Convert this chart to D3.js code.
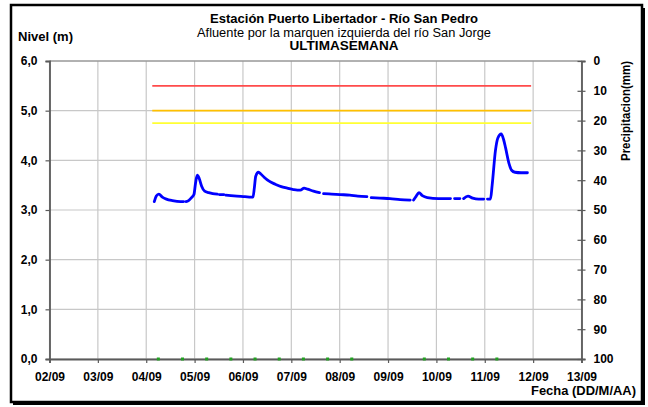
<!DOCTYPE html>
<html><head><meta charset="utf-8">
<script src="https://cdn.jsdelivr.net/npm/d3@7/dist/d3.min.js"></script>
<style>
body{margin:0;background:#fff;}
svg{display:block;font-family:"Liberation Sans",Arial,sans-serif;}
</style></head>
<body><svg id="c" width="648" height="407"></svg>
<script>
// ---- data ----
const dayLabels = ["02/09","03/09","04/09","05/09","06/09","07/09","08/09","09/09","10/09","11/09","12/09","13/09"];
const levelTicks = [0,1,2,3,4,5,6];
const precipTicks = [0,10,20,30,40,50,60,70,80,90,100];

const levelTimes = [
 "04/09 04:00","04/09 05:00","04/09 06:15","04/09 08:00","04/09 10:00","04/09 13:00","04/09 17:00","04/09 18:30","04/09 19:00",
 "04/09 19:40","04/09 21:00","04/09 22:30","04/09 23:40","05/09 00:30","05/09 01:20","05/09 02:20","05/09 03:30","05/09 05:00",
 "05/09 07:00","05/09 09:00","05/09 11:20","05/09 11:50","05/09 12:20","05/09 14:30","05/09 15:00","05/09 15:30","05/09 18:00",
 "05/09 21:00","06/09 01:00","06/09 04:00","06/09 05:00","06/09 05:40","06/09 06:20","06/09 07:40","06/09 09:00","06/09 10:30",
 "06/09 13:00","06/09 16:00","06/09 19:00","06/09 22:00","07/09 01:00","07/09 03:00","07/09 04:30","07/09 06:20","07/09 08:00",
 "07/09 11:00","07/09 14:00","07/09 15:00","07/09 16:00","07/09 20:00","08/09 00:20","08/09 05:00","08/09 09:00","08/09 13:30",
 "08/09 14:40","08/09 15:40","08/09 20:00","09/09 01:00","09/09 06:00","09/09 11:00","09/09 12:00","09/09 12:40","09/09 14:00",
 "09/09 15:20","09/09 17:00","09/09 19:30","10/09 01:00","10/09 07:00","10/09 08:00","10/09 09:00","10/09 11:40","10/09 12:30",
 "10/09 13:30","10/09 15:40","10/09 18:00","10/09 21:00","10/09 23:30","11/09 00:30","11/09 01:20","11/09 02:50","11/09 03:40",
 "11/09 05:20","11/09 06:30","11/09 08:10","11/09 09:20","11/09 10:20","11/09 12:00","11/09 13:20","11/09 15:00","11/09 18:00",
 "11/09 21:10"
];
const levelValues = [
 3.17,3.28,3.32,3.26,3.22,3.19,3.17,3.17,null,
 3.17,3.19,3.25,3.31,3.55,3.70,3.63,3.48,3.38,
 3.35,3.33,3.32,null,3.31,3.31,null,3.30,3.29,
 3.28,3.27,3.26,3.26,3.45,3.68,3.76,3.72,3.66,
 3.58,3.52,3.47,3.44,3.41,3.40,3.40,3.44,3.42,
 3.38,3.35,null,3.33,3.32,3.31,3.30,3.28,3.27,
 null,3.25,3.24,3.23,3.21,3.20,null,3.20,3.28,
 3.35,3.29,3.25,3.23,3.23,null,3.23,3.23,null,
 3.23,3.28,3.24,3.22,3.22,null,3.22,3.22,3.50,
 4.21,4.45,4.53,4.42,4.25,3.94,3.80,3.76,3.75,
 3.75
];

const thresholdStart = "04/09 03:00";
const thresholdEnd = "11/09 23:00";
const thresholdValues = [5.5, 5.0, 4.75];
const thresholdColors = ["#ff4b4b", "#ffc000", "#ffff33"];

const precipTimes = ["04/09 06:00","04/09 18:00","05/09 06:00","05/09 18:00","06/09 06:00","06/09 18:00","07/09 06:00","07/09 18:00","08/09 06:00",
  "09/09 18:00","10/09 06:00","10/09 18:00","11/09 06:00"];
const precipValues = [0,0,0,0,0,0,0,0,0,0,0,0,0];

// ---- chart ----
const parse = d3.timeParse("%d/%m %H:%M");
const svg = d3.select("#c");
const L = 49.5, R = 581.5, T = 61, B = 359;

const x = d3.scaleTime().domain([parse("02/09 00:00"), parse("13/09 00:00")]).range([L, R]);
const y = d3.scaleLinear().domain([0, 6]).range([B, T]);
const yP = d3.scaleLinear().domain([0, 100]).range([T, B]);

// frame with shadow
svg.append("rect").attr("x", 13).attr("y", 8).attr("width", 632).attr("height", 397).attr("fill", "#000");
svg.append("rect").attr("x", 11).attr("y", 5).attr("width", 631).attr("height", 397)
  .attr("fill", "#fff").attr("stroke", "#000").attr("stroke-width", 2.5);

// gridlines
const g = svg.append("g");
const dayDates = dayLabels.map(d => parse(d + " 00:00"));
g.selectAll("line.vg").data(dayDates).enter().append("line")
  .attr("x1", d => x(d)).attr("x2", d => x(d)).attr("y1", T).attr("y2", B)
  .attr("stroke", "#c8c8c8").attr("stroke-width", 1.2);
g.selectAll("line.hg").data(levelTicks).enter().append("line")
  .attr("x1", L).attr("x2", R).attr("y1", d => y(d)).attr("y2", d => y(d))
  .attr("stroke", "#c8c8c8").attr("stroke-width", 1.2);
g.append("line").attr("x1", L).attr("x2", R).attr("y1", T).attr("y2", T).attr("stroke", "#808080").attr("stroke-width", 1);

// thresholds
thresholdValues.forEach((v, i) => {
  g.append("line").attr("x1", x(parse(thresholdStart))).attr("x2", x(parse(thresholdEnd)))
    .attr("y1", y(v)).attr("y2", y(v)).attr("stroke", thresholdColors[i]).attr("stroke-width", 1.8);
});

// axes
const fmtLevel = d => d.toFixed(1).replace(".", ",");
const ax = svg.append("g").attr("transform", `translate(${L},0)`)
  .call(d3.axisLeft(y).tickValues(levelTicks).tickFormat(fmtLevel).tickSize(4).tickPadding(8));
const bx = svg.append("g").attr("transform", `translate(0,${B})`)
  .call(d3.axisBottom(x).tickValues(dayDates).tickFormat(d3.timeFormat("%d/%m")).tickSize(4).tickPadding(9));
const rx = svg.append("g").attr("transform", `translate(${R},0)`)
  .call(d3.axisRight(yP).tickValues(precipTicks).tickSize(4).tickPadding(8));
rx.selectAll(".tick line").attr("x1", -4);
[ax, bx, rx].forEach(a => {
  a.selectAll(".domain").attr("stroke", "#5a5a5a").attr("stroke-width", 1.8);
  a.selectAll(".tick line").attr("stroke", "#5a5a5a").attr("stroke-width", 1.2);
  a.selectAll("text").attr("font-family", "Liberation Sans, Arial, sans-serif")
    .attr("font-size", 12).attr("font-weight", "bold").attr("fill", "#000");
});

// level line
const levelData = levelTimes.map((t, i) => ({t: parse(t), v: levelValues[i]}));
svg.append("path").datum(levelData)
  .attr("d", d3.line().defined(d => d.v != null).x(d => x(d.t)).y(d => y(d.v)).curve(d3.curveMonotoneX))
  .attr("fill", "none").attr("stroke", "#0000ff").attr("stroke-width", 2.8)
  .attr("stroke-linecap", "round").attr("stroke-linejoin", "round");

// precipitation markers
const precipData = precipTimes.map((t, i) => ({t: parse(t), v: precipValues[i]}));
svg.selectAll("rect.p").data(precipData).enter().append("rect")
  .attr("x", d => x(d.t) - 1.5).attr("y", d => y(0) - 1.5).attr("width", 3).attr("height", 3)
  .attr("fill", "#22a022");

// texts
const tx = (s, xx, yy, size, weight, anchor, len) => {
  const t = svg.append("text").text(s)
    .attr("x", xx).attr("y", yy).attr("font-size", size).attr("font-weight", weight)
    .attr("text-anchor", anchor || "middle").attr("fill", "#000");
  if (len) t.attr("textLength", len).attr("lengthAdjust", "spacingAndGlyphs");
  return t;
};
tx("Estación Puerto Libertador - Río San Pedro", 344, 23, 12, "bold", "middle", 268);
tx("Afluente por la marquen izquierda del río San Jorge", 344, 37, 12, "normal", "middle", 294);
tx("ULTIMASEMANA", 344, 50, 12, "bold", "middle", 109);
tx("Nivel (m)", 18, 41, 12, "bold", "start", 55);
tx("Fecha (DD/M/AA)", 636, 395, 12, "bold", "end", 105);
svg.append("text").text("Precipitacion(mm)")
  .attr("transform", "translate(630,111) rotate(-90)")
  .attr("font-size", 12).attr("font-weight", "bold").attr("text-anchor", "middle")
  .attr("textLength", 100).attr("lengthAdjust", "spacingAndGlyphs");
</script></body></html>
